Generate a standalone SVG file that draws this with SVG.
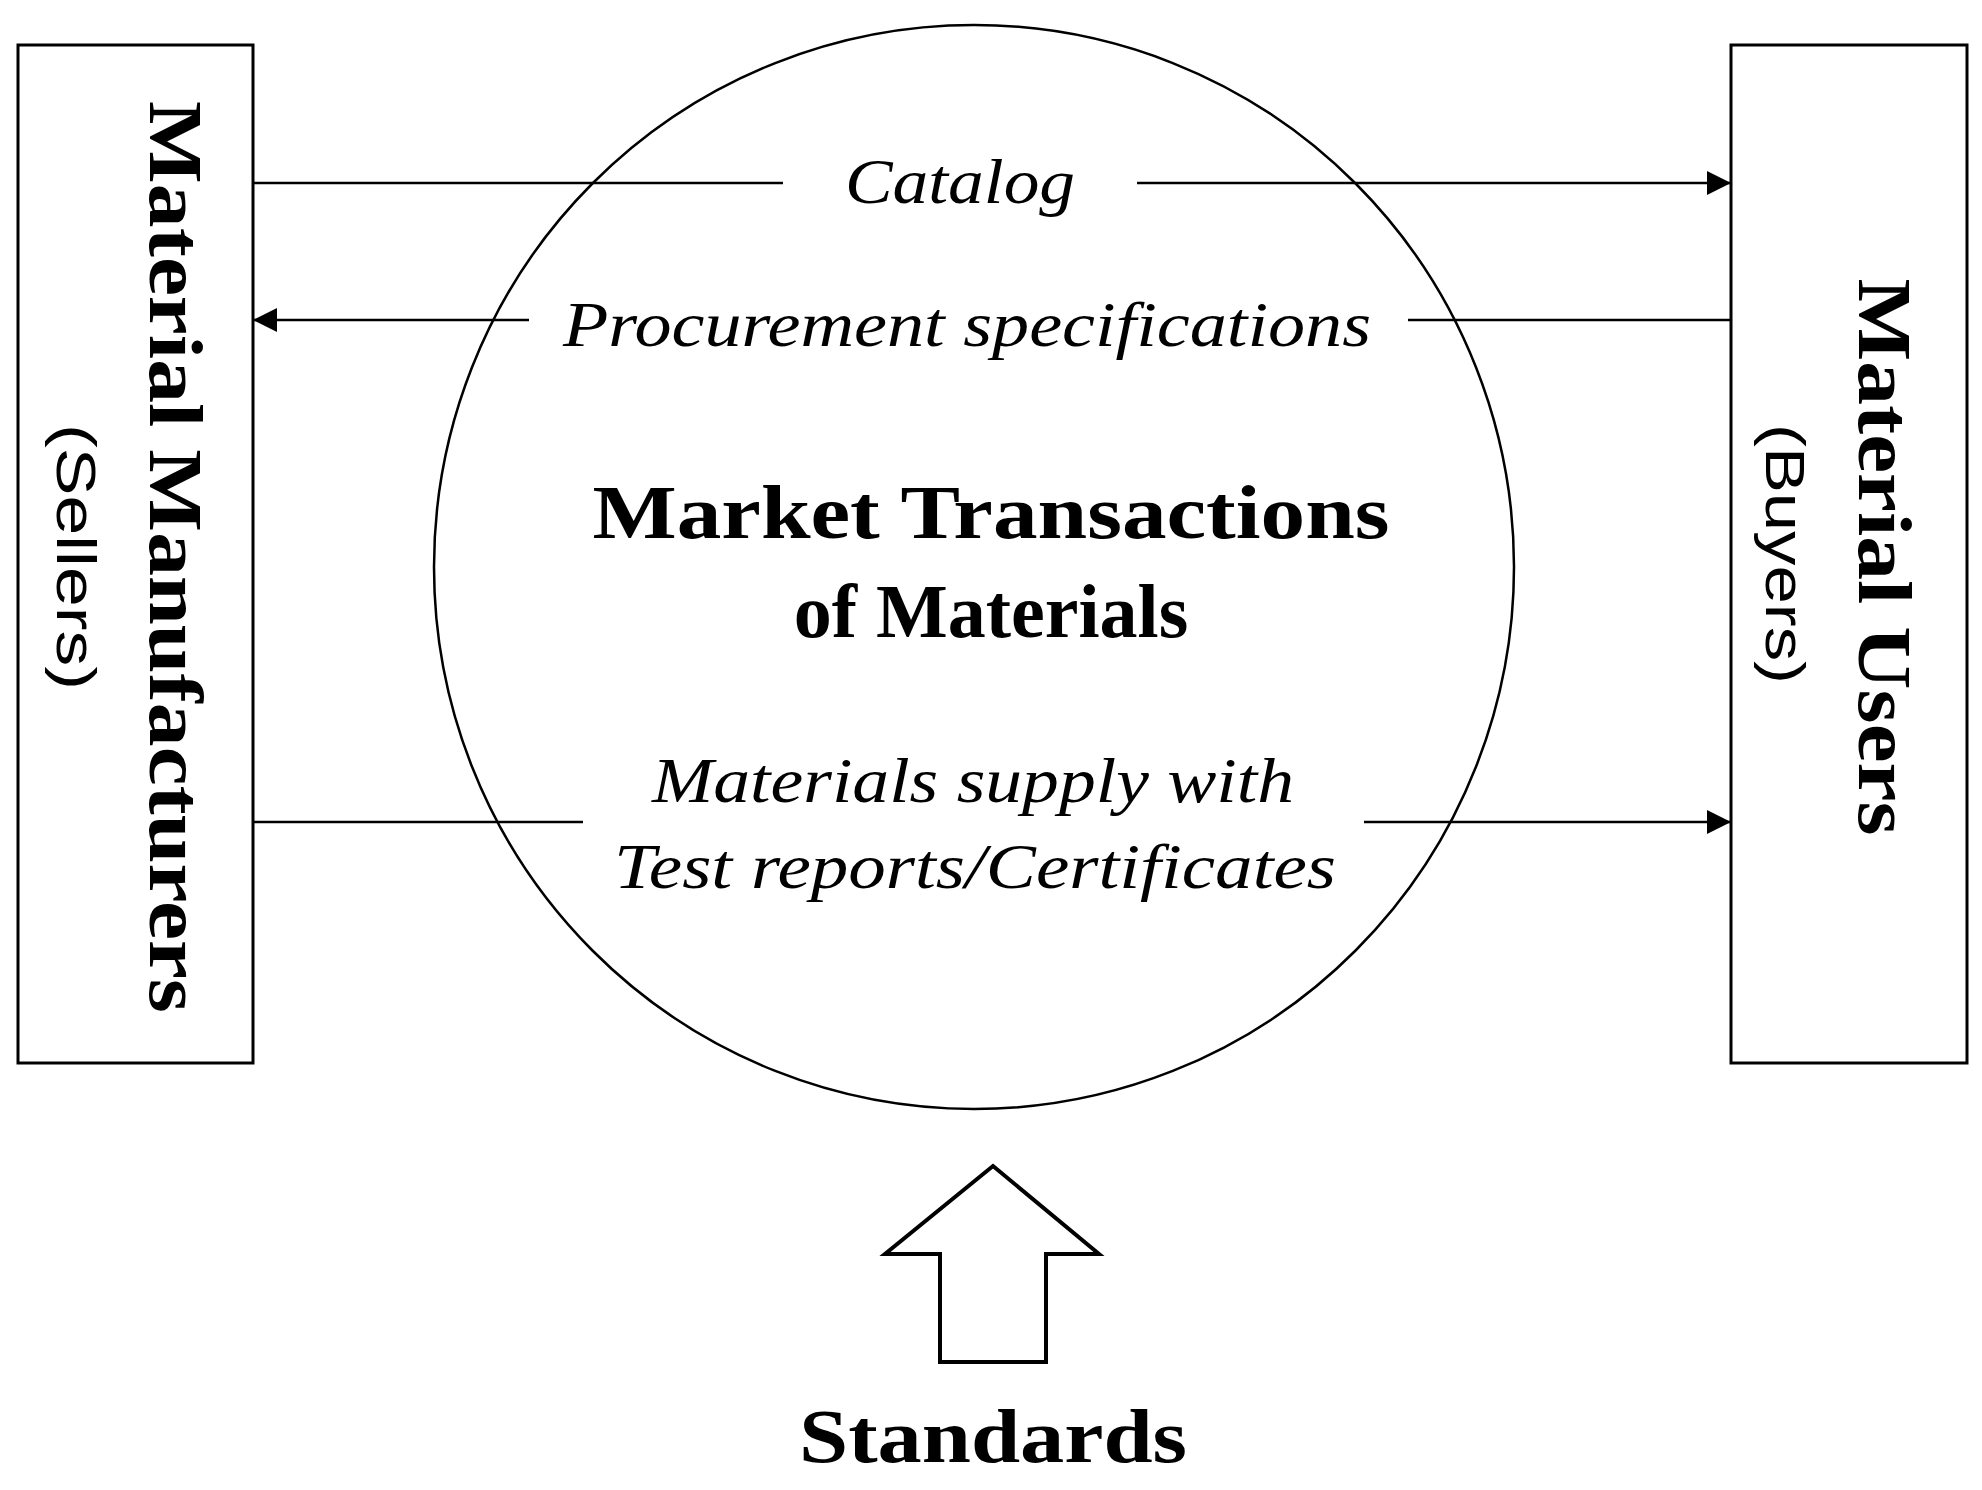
<svg xmlns="http://www.w3.org/2000/svg" width="1982" height="1490" viewBox="0 0 1982 1490">
<style>
.box{fill:#fff;stroke:#000;stroke-width:3}
.ln{stroke:#000;stroke-width:2.5;fill:none}
.it{font-family:"Liberation Serif",serif;font-style:italic;font-size:64px;text-anchor:middle}
.bd{font-family:"Liberation Serif",serif;font-weight:bold;font-size:76px;text-anchor:middle}
.rg{font-family:"Liberation Sans",sans-serif;font-size:56px;text-anchor:middle}
</style>
<defs>
<marker id="ah" viewBox="0 0 10 10" refX="10" refY="5" markerWidth="10" markerHeight="10" markerUnits="userSpaceOnUse" orient="auto-start-reverse">
<path d="M0,0 L10,5 L0,10 z" fill="#000"/>
</marker>
<marker id="ah2" viewBox="0 0 10 10" refX="10" refY="5" markerWidth="28" markerHeight="24" markerUnits="userSpaceOnUse" orient="auto">
<path d="M0,0 L10,5 L0,10 z" fill="#000"/>
</marker>
</defs>
<rect width="1982" height="1490" fill="#fff"/>
<g id="market">
<ellipse cx="974" cy="567" rx="540" ry="542" fill="none" stroke="#000" stroke-width="2.5"/>
<text class="bd" x="991" y="538" textLength="797" lengthAdjust="spacingAndGlyphs">Market Transactions</text>
<text class="bd" x="991" y="637">of Materials</text>
</g>
<g id="sellers">
<rect class="box" x="18" y="45" width="235" height="1018"/>
<text class="bd" transform="translate(150,557) rotate(90)" textLength="912" lengthAdjust="spacingAndGlyphs">Material Manufacturers</text>
<text class="rg" transform="translate(57,557) rotate(90)" textLength="266" lengthAdjust="spacingAndGlyphs">(Sellers)</text>
</g>
<g id="buyers">
<rect class="box" x="1731" y="45" width="236" height="1018"/>
<text class="bd" transform="translate(1859,557) rotate(90)" textLength="557" lengthAdjust="spacingAndGlyphs">Material Users</text>
<text class="rg" transform="translate(1766,554) rotate(90)" textLength="260" lengthAdjust="spacingAndGlyphs">(Buyers)</text>
</g>
<g id="standards">
<path d="M993,1166 L1099,1254 L1046,1254 L1046,1362 L940,1362 L940,1254 L885,1254 Z" fill="#fff" stroke="#000" stroke-width="4"/>
<text class="bd" x="993" y="1462" textLength="388" lengthAdjust="spacingAndGlyphs">Standards</text>
</g>
<g id="connectors">
<line class="ln" x1="253" y1="183" x2="783" y2="183"/>
<line class="ln" x1="1137" y1="183" x2="1731" y2="183" marker-end="url(#ah2)"/>
<line class="ln" x1="529" y1="320" x2="253" y2="320" marker-end="url(#ah2)"/>
<line class="ln" x1="1408" y1="320" x2="1731" y2="320"/>
<line class="ln" x1="253" y1="822" x2="583" y2="822"/>
<line class="ln" x1="1364" y1="822" x2="1731" y2="822" marker-end="url(#ah2)"/>
<text class="it" x="960" y="203" textLength="230" lengthAdjust="spacingAndGlyphs">Catalog</text>
<text class="it" x="967" y="346" textLength="808" lengthAdjust="spacingAndGlyphs">Procurement specifications</text>
<text class="it" x="973" y="802" textLength="642" lengthAdjust="spacingAndGlyphs">Materials supply with</text>
<text class="it" x="975" y="888" textLength="722" lengthAdjust="spacingAndGlyphs">Test reports/Certificates</text>
</g>
</svg>
